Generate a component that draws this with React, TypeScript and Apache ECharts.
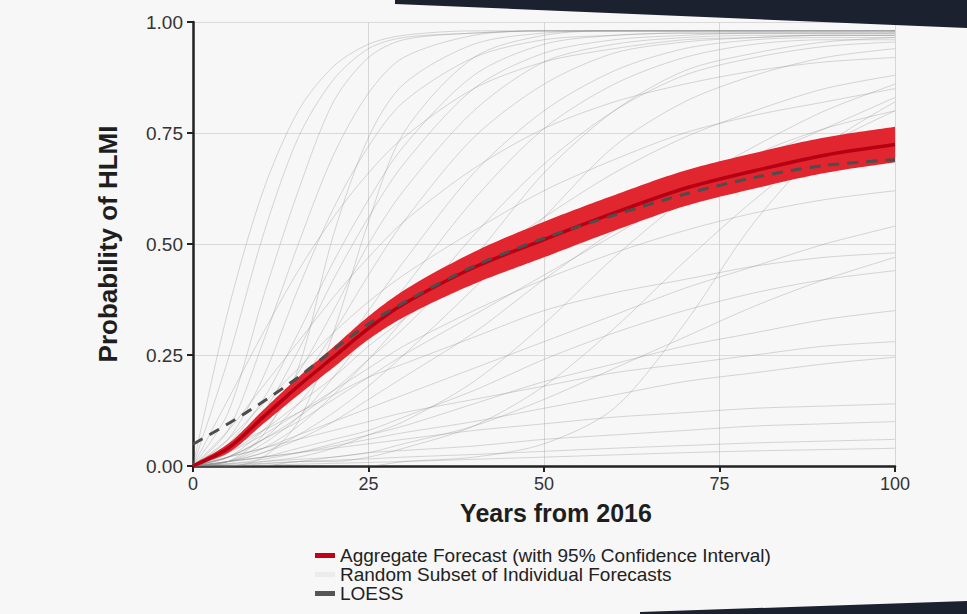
import React, { useEffect, useRef } from "react";
import * as echarts from "echarts";

const years = [0, 5, 10, 15, 20, 25, 30, 40, 50, 60, 70, 80, 90, 100];

const aggregateMean = [0, 0.04, 0.11, 0.18, 0.245, 0.31, 0.365, 0.447, 0.51, 0.57, 0.625, 0.665, 0.7, 0.724];
const ciLower = [0, 0.03, 0.095, 0.16, 0.222, 0.285, 0.335, 0.41, 0.47, 0.53, 0.585, 0.625, 0.66, 0.684];
const ciUpper = [0.004, 0.05, 0.126, 0.2, 0.268, 0.337, 0.395, 0.482, 0.55, 0.61, 0.665, 0.705, 0.74, 0.764];
const loess = [0.049, 0.095, 0.145, 0.2, 0.262, 0.32, 0.368, 0.45, 0.513, 0.565, 0.612, 0.65, 0.677, 0.69];

const individualForecasts: number[][] = [
  [0, 0.35, 0.62, 0.8, 0.9, 0.95, 0.97, 0.98, 0.98, 0.98, 0.98, 0.98, 0.98, 0.98],
  [0, 0.24, 0.52, 0.74, 0.87, 0.94, 0.965, 0.975, 0.98, 0.98, 0.98, 0.98, 0.98, 0.98],
  [0, 0.12, 0.38, 0.62, 0.82, 0.92, 0.96, 0.975, 0.98, 0.98, 0.98, 0.98, 0.98, 0.98],
  [0, 0.08, 0.28, 0.5, 0.7, 0.84, 0.92, 0.97, 0.98, 0.98, 0.98, 0.98, 0.98, 0.98],
  [0, 0.01, 0.07, 0.22, 0.52, 0.74, 0.86, 0.95, 0.975, 0.98, 0.98, 0.98, 0.98, 0.98],
  [0, 0.05, 0.15, 0.3, 0.46, 0.6, 0.72, 0.88, 0.95, 0.97, 0.975, 0.975, 0.975, 0.975],
  [0, 0.03, 0.12, 0.26, 0.42, 0.56, 0.68, 0.85, 0.93, 0.96, 0.97, 0.975, 0.975, 0.975],
  [0, 0.03, 0.1, 0.21, 0.35, 0.5, 0.62, 0.8, 0.91, 0.95, 0.965, 0.97, 0.97, 0.97],
  [0, 0.02, 0.08, 0.18, 0.3, 0.43, 0.55, 0.74, 0.86, 0.93, 0.955, 0.965, 0.97, 0.97],
  [0, 0.02, 0.06, 0.14, 0.24, 0.35, 0.46, 0.66, 0.8, 0.89, 0.94, 0.96, 0.965, 0.965],
  [0, 0.01, 0.05, 0.11, 0.2, 0.3, 0.4, 0.6, 0.76, 0.86, 0.92, 0.95, 0.96, 0.96],
  [0, 0.01, 0.04, 0.09, 0.16, 0.24, 0.33, 0.52, 0.68, 0.8, 0.88, 0.92, 0.945, 0.955],
  [0, 0.06, 0.2, 0.4, 0.58, 0.72, 0.82, 0.92, 0.96, 0.97, 0.975, 0.975, 0.975, 0.975],
  [0, 0, 0.02, 0.1, 0.3, 0.55, 0.75, 0.92, 0.97, 0.98, 0.98, 0.98, 0.98, 0.98],
  [0, 0.02, 0.06, 0.11, 0.17, 0.24, 0.31, 0.47, 0.66, 0.8, 0.89, 0.93, 0.955, 0.965],
  [0, 0.01, 0.03, 0.07, 0.12, 0.18, 0.25, 0.4, 0.56, 0.72, 0.82, 0.88, 0.92, 0.94],
  [0, 0.03, 0.08, 0.14, 0.2, 0.27, 0.33, 0.45, 0.56, 0.66, 0.74, 0.8, 0.85, 0.88],
  [0, 0.06, 0.14, 0.22, 0.3, 0.37, 0.43, 0.53, 0.62, 0.69, 0.75, 0.79, 0.82, 0.85],
  [0, 0, 0.01, 0.02, 0.04, 0.07, 0.1, 0.19, 0.32, 0.47, 0.6, 0.7, 0.76, 0.8],
  [0, 0, 0, 0, 0, 0, 0.01, 0.02, 0.05, 0.13, 0.32, 0.55, 0.72, 0.82],
  [0, 0, 0, 0.01, 0.01, 0.02, 0.04, 0.09, 0.18, 0.31, 0.46, 0.6, 0.72, 0.8],
  [0, 0.02, 0.04, 0.07, 0.1, 0.13, 0.16, 0.22, 0.28, 0.34, 0.4, 0.45, 0.5, 0.54],
  [0, 0.04, 0.08, 0.12, 0.16, 0.2, 0.23, 0.29, 0.35, 0.39, 0.42, 0.45, 0.47, 0.48],
  [0, 0.01, 0.02, 0.04, 0.06, 0.08, 0.11, 0.17, 0.24, 0.3, 0.35, 0.39, 0.42, 0.44],
  [0, 0.005, 0.015, 0.03, 0.05, 0.07, 0.09, 0.14, 0.19, 0.23, 0.27, 0.3, 0.33, 0.35],
  [0, 0.02, 0.04, 0.06, 0.08, 0.1, 0.12, 0.15, 0.18, 0.21, 0.23, 0.25, 0.27, 0.28],
  [0, 0.01, 0.02, 0.03, 0.045, 0.06, 0.075, 0.1, 0.13, 0.16, 0.19, 0.21, 0.23, 0.245],
  [0, 0.01, 0.02, 0.03, 0.04, 0.05, 0.06, 0.08, 0.095, 0.11, 0.12, 0.13, 0.135, 0.14],
  [0, 0.005, 0.01, 0.015, 0.02, 0.03, 0.035, 0.045, 0.06, 0.07, 0.08, 0.09, 0.095, 0.1],
  [0, 0.003, 0.006, 0.01, 0.013, 0.016, 0.02, 0.026, 0.033, 0.04, 0.046, 0.052, 0.056, 0.06],
  [0, 0, 0.002, 0.004, 0.006, 0.008, 0.01, 0.015, 0.02, 0.025, 0.03, 0.034, 0.037, 0.04],
  [0, 0.03, 0.07, 0.12, 0.17, 0.22, 0.27, 0.35, 0.42, 0.48, 0.53, 0.57, 0.6, 0.62],
  [0, 0.01, 0.03, 0.06, 0.1, 0.15, 0.2, 0.3, 0.42, 0.53, 0.63, 0.72, 0.8, 0.86],
  [0, 0.02, 0.06, 0.1, 0.15, 0.2, 0.25, 0.34, 0.43, 0.52, 0.61, 0.69, 0.76, 0.83],
  [0, 0.08, 0.18, 0.28, 0.38, 0.47, 0.55, 0.67, 0.76, 0.82, 0.86, 0.89, 0.91, 0.92],
  [0, 0, 0.005, 0.01, 0.02, 0.03, 0.05, 0.09, 0.15, 0.22, 0.29, 0.36, 0.42, 0.47],
  [0, 0.15, 0.3, 0.44, 0.56, 0.66, 0.74, 0.85, 0.91, 0.94, 0.96, 0.965, 0.97, 0.97],
];

const xTicks = [0, 25, 50, 75, 100];
const yTickLabels = ["0.00", "0.25", "0.50", "0.75", "1.00"];

const NAME_AGG = "Aggregate Forecast (with 95% Confidence Interval)";
const NAME_IND = "Random Subset of Individual Forecasts";
const NAME_LOESS = "LOESS";

const FONT = "'Liberation Sans', Arial, Helvetica, sans-serif";

const pairs = (vals: number[]) => vals.map((v, i) => [years[i], v]);

// Centripetal Catmull-Rom sampling in pixel space (rendering only)
function sampleCurve(pts: number[][], steps = 16): number[][] {
  const out: number[][] = [];
  const n = pts.length;
  for (let i = 0; i < n - 1; i++) {
    const p1 = pts[i];
    const p2 = pts[i + 1];
    const p0 = i > 0 ? pts[i - 1] : [2 * p1[0] - p2[0], 2 * p1[1] - p2[1]];
    const p3 = i + 2 < n ? pts[i + 2] : [2 * p2[0] - p1[0], 2 * p2[1] - p1[1]];
    const d = (a: number[], b: number[]) => Math.max(1e-6, Math.pow(Math.hypot(b[0] - a[0], b[1] - a[1]), 0.5));
    const t0 = 0;
    const t1 = t0 + d(p0, p1);
    const t2 = t1 + d(p1, p2);
    const t3 = t2 + d(p2, p3);
    for (let s = 0; s < steps; s++) {
      const t = t1 + ((t2 - t1) * s) / steps;
      const lerp = (a: number[], b: number[], ta: number, tb: number) => [
        ((tb - t) / (tb - ta)) * a[0] + ((t - ta) / (tb - ta)) * b[0],
        ((tb - t) / (tb - ta)) * a[1] + ((t - ta) / (tb - ta)) * b[1],
      ];
      const A1 = lerp(p0, p1, t0, t1);
      const A2 = lerp(p1, p2, t1, t2);
      const A3 = lerp(p2, p3, t2, t3);
      const B1 = lerp(A1, A2, t0, t2);
      const B2 = lerp(A2, A3, t1, t3);
      out.push(lerp(B1, B2, t1, t2));
    }
  }
  out.push(pts[n - 1]);
  return out;
}

export default function App() {
  const ref = useRef<HTMLDivElement>(null);

  useEffect(() => {
    if (!ref.current) return;
    const chart = echarts.init(ref.current, undefined, { renderer: "svg" });

    const grayLines = individualForecasts.map((vals, k) => ({
      name: NAME_IND,
      id: "ind" + k,
      type: "line",
      data: pairs(vals),
      smooth: 0.3,
      symbol: "none",
      silent: true,
      itemStyle: { color: "#e4e4e4" },
      lineStyle: { color: "rgba(140,140,140,0.33)", width: 1 },
      z: 1,
    }));

    const option: any = {
      animation: false,
      backgroundColor: "#f7f7f7",
      textStyle: { fontFamily: FONT },
      grid: { left: 193, right: 72, top: 22, bottom: 148 },
      xAxis: {
        type: "value",
        min: xTicks[0],
        max: xTicks[xTicks.length - 1],
        interval: 25,
        name: "Years from 2016",
        nameLocation: "middle",
        nameGap: 34,
        nameTextStyle: {
          fontSize: 25,
          fontWeight: "bold",
          color: "#1e1e1e",
          fontFamily: FONT,
          padding: [0, 0, 0, 24],
        },
        axisLine: { show: true, onZero: false, lineStyle: { color: "#222", width: 2.5 } },
        axisTick: { show: true, length: 6, lineStyle: { color: "#222", width: 2 } },
        axisLabel: { fontSize: 18, color: "#333", margin: 9, fontFamily: FONT },
        splitLine: { show: true, lineStyle: { color: "#d6d6d6", width: 1 } },
      },
      yAxis: {
        type: "value",
        min: 0,
        max: 1,
        interval: 0.25,
        name: "Probability of HLMI",
        nameLocation: "middle",
        nameGap: 72,
        nameTextStyle: { fontSize: 26, fontWeight: "bold", color: "#1e1e1e", fontFamily: FONT },
        axisLine: { show: true, onZero: false, lineStyle: { color: "#222", width: 2.5 } },
        axisTick: { show: true, length: 6, lineStyle: { color: "#222", width: 2 } },
        axisLabel: {
          fontSize: 19,
          color: "#333",
          margin: 10,
          fontFamily: FONT,
          formatter: (v: number) => yTickLabels[Math.round(v / 0.25)] ?? v.toFixed(2),
        },
        splitLine: { show: true, lineStyle: { color: "#dadada", width: 1 } },
      },
      legend: {
        orient: "vertical",
        left: 315,
        top: 546,
        itemGap: 0,
        itemWidth: 20,
        itemHeight: 5,
        padding: 0,
        selectedMode: false,
        textStyle: { fontSize: 19, color: "#222", fontFamily: FONT },
        data: [
          { name: NAME_AGG, icon: "rect", itemStyle: { color: "#c1001a" } },
          { name: NAME_IND, icon: "rect", itemStyle: { color: "#ececec" } },
          { name: NAME_LOESS, icon: "rect", itemStyle: { color: "#555555" } },
        ],
      },
      graphic: [
        {
          type: "polygon",
          silent: true,
          z: 100,
          shape: { points: [[395, 0], [967, 0], [967, 28], [395, 4]] },
          style: { fill: "#1c2130" },
        },
        {
          type: "polygon",
          silent: true,
          z: 100,
          shape: { points: [[640, 614], [967, 614], [967, 601], [640, 612]] },
          style: { fill: "#1c2130" },
        },
      ],
      series: [
        ...grayLines,
        {
          name: "ci-band",
          type: "custom",
          data: [[0, 0]],
          silent: true,
          z: 2,
          clip: true,
          renderItem: (_params: any, api: any) => {
            const up = years.map((x, i) => api.coord([x, ciUpper[i]]));
            const lo = years.map((x, i) => api.coord([x, ciLower[i]]));
            const upS = sampleCurve(up);
            const loS = sampleCurve(lo).reverse();
            return {
              type: "polygon",
              shape: { points: upS.concat(loS) },
              style: { fill: "#e2262f", stroke: "none" },
            };
          },
        },
        {
          name: NAME_AGG,
          type: "line",
          data: pairs(aggregateMean),
          smooth: 0.3,
          symbol: "none",
          silent: true,
          itemStyle: { color: "#c1001a" },
          lineStyle: { color: "#b50014", width: 3.5 },
          z: 3,
        },
        {
          name: NAME_LOESS,
          type: "line",
          data: pairs(loess),
          smooth: 0.3,
          symbol: "none",
          silent: true,
          itemStyle: { color: "#555555" },
          lineStyle: { color: "#4d4d4d", width: 3, type: [11, 8] },
          z: 4,
        },
      ],
    };

    chart.setOption(option);
    return () => chart.dispose();
  }, []);

  return (
    <div
      ref={ref}
      style={{ position: "fixed", left: 0, top: 0, width: 967, height: 614 }}
    />
  );
}
